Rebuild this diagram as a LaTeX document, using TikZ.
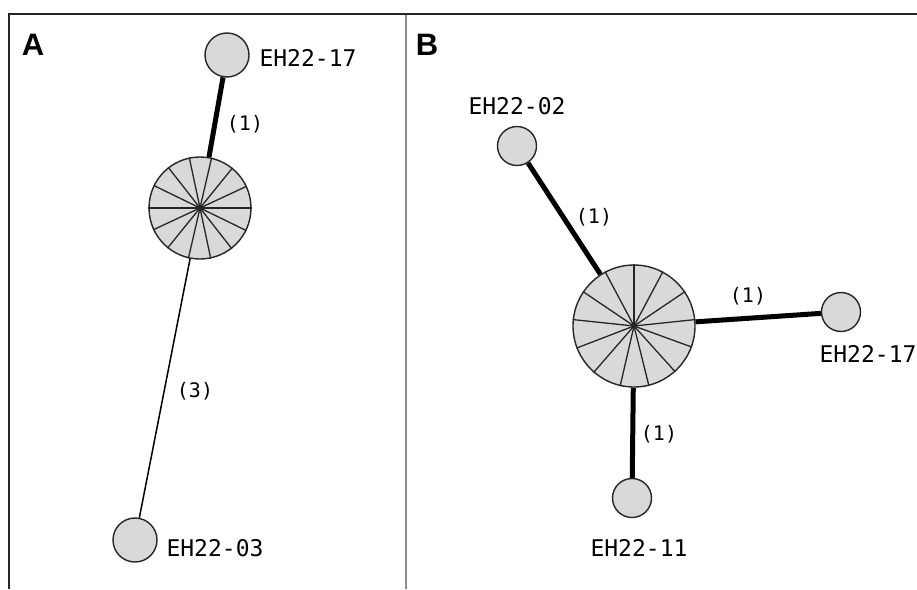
\documentclass[tikz,border=0pt]{standalone}
\usepackage{fontspec}
\setmainfont{Liberation Sans}
\newfontfamily\labelfont{DejaVu Sans Mono}
\usetikzlibrary{backgrounds}
\definecolor{nodegray}{HTML}{D9D9D9}
\definecolor{rulegray}{HTML}{8C8C8C}
\tikzset{
  frameline/.style={line width=1.5pt, draw=black!85},
  divider/.style={line width=1.3pt, draw=rulegray},
  hap/.style={circle, draw=black!85, fill=nodegray, line width=1.4pt, inner sep=0pt, minimum size=#1},
  spoke/.style={line width=1.3pt, draw=black!85},
  heavy/.style={line width=5pt, draw=black},
  light/.style={line width=1.5pt, draw=black},
  taglabel/.style={font=\labelfont\fontsize{23}{23}\selectfont, inner sep=0pt},
  steplabel/.style={font=\labelfont\fontsize{20}{20}\selectfont, inner sep=0pt},
  panellabel/.style={font=\bfseries\fontsize{31}{31}\selectfont, inner sep=0pt}
}
\begin{document}
\begin{tikzpicture}[x=1pt, y=-1pt]
\useasboundingbox (0,0) rectangle (917,589);

% frame and panel divider
\coordinate (tl) at (9,14);
\coordinate (tr) at (917,14);
\coordinate (bl) at (9,589);
\coordinate (dt) at (406,14);
\coordinate (db) at (406,589);
\draw[divider] (dt) -- (db);
\draw[frameline] (bl) -- (tl) -- (tr);

\node[panellabel] (lblA) at (33,45) {A};
\node[panellabel] (lblB) at (427,45) {B};

% ---- panel A ----
\node[hap=102pt] (pA) at (200,208) {};
\node[hap=44pt] (a17) at (227,55) {};
\node[hap=44pt] (a03) at (135,540) {};
\foreach \k in {0,...,13}
  \draw[spoke] (pA.center) -- (pA.{\k*360/14});
\begin{scope}[on background layer]
  \draw[heavy] (a17) -- (pA);
  \draw[light] (pA) -- (a03);
\end{scope}
\node[taglabel] (ta17) at (308,58) {EH22-17};
\node[taglabel] (ta03) at (215,548) {EH22-03};
\node[steplabel] (sa1) at (245,124) {(1)};
\node[steplabel] (sa3) at (195,391) {(3)};

% ---- panel B ----
\node[hap=122pt] (pB) at (634,326) {};
\node[hap=39pt] (b02) at (517,146) {};
\node[hap=39pt] (b17) at (841,312) {};
\node[hap=39pt] (b11) at (632,498) {};
\foreach \k in {0,...,12}
  \draw[spoke] (pB.center) -- (pB.{90-\k*360/13});
\begin{scope}[on background layer]
  \draw[heavy] (b02) -- (pB);
  \draw[heavy] (pB) -- (b17);
  \draw[heavy] (pB) -- (b11);
\end{scope}
\node[taglabel] (tb02) at (517,106) {EH22-02};
\node[taglabel] (tb17) at (868,354) {EH22-17};
\node[taglabel] (tb11) at (639,548) {EH22-11};
\node[steplabel] (sb1) at (594,217) {(1)};
\node[steplabel] (sb2) at (748,296) {(1)};
\node[steplabel] (sb3) at (659,434) {(1)};
\end{tikzpicture}
\end{document}
